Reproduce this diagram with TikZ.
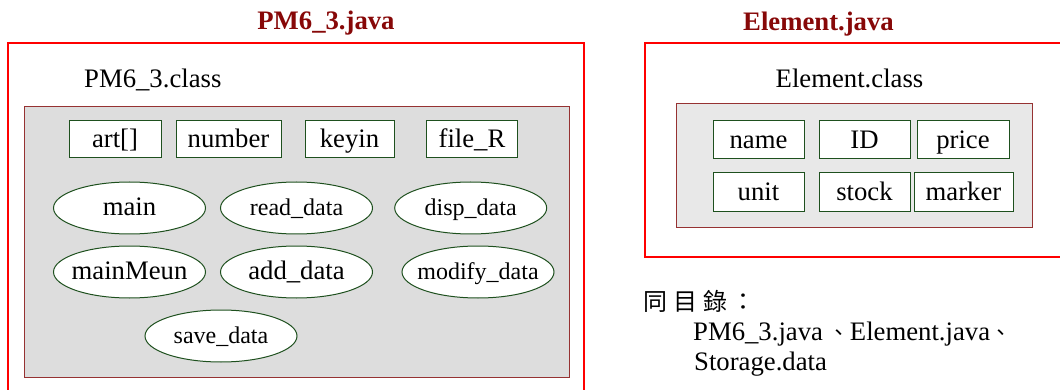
\documentclass[tikz,border=0pt]{standalone}
\usepackage{fontspec}
\setmainfont{Liberation Serif}
\newfontfamily\cjk{Noto Sans CJK TC}
\usetikzlibrary{shapes.geometric}

\definecolor{frameRed}{RGB}{255,0,0}
\definecolor{titleRed}{RGB}{135,8,8}
\definecolor{panelEdge}{RGB}{150,50,50}
\definecolor{panelGrayA}{RGB}{221,221,221}
\definecolor{panelGrayB}{RGB}{232,232,232}
\definecolor{itemGreen}{RGB}{30,80,30}

\tikzset{
  frame/.style={draw=frameRed, line width=1.8pt},
  panel/.style={draw=panelEdge, line width=0.9pt},
  title/.style={font=\fontsize{26.7}{30}\selectfont\bfseries, text=titleRed, inner sep=0pt, anchor=base},
  label/.style={font=\fontsize{26.7}{30}\selectfont, inner sep=0pt},
  field/.style={draw=itemGreen, line width=1pt, fill=white, inner sep=0pt,
    minimum height=37pt, font=\fontsize{26.7}{30}\selectfont,
    text height=18pt, text depth=1pt},
  method/.style={ellipse, draw=itemGreen, line width=1pt, fill=white,
    inner xsep=-14pt, inner ysep=0pt,
    minimum width=152pt, minimum height=52pt,
    text height=16pt, text depth=2pt},
  big/.style={font=\fontsize{26.7}{30}\selectfont},
  small/.style={font=\fontsize{24}{28}\selectfont},
}

% enumeration comma between file names
\newcommand{\listcomma}{{\cjk\fontsize{21}{30}\selectfont 、}}

\begin{document}
\begin{tikzpicture}[x=1pt, y=-1pt]
\useasboundingbox (0,0) rectangle (1060,390);
\clip (0,0) rectangle (1060,390);

% ---- PM6_3.java ----
\node[title] (titleA) at (326,29.5) {PM6\_3.java};
\draw[frame] (8.3,43.3) rectangle (584,400);
\node[label, anchor=base west] (classA) at (84,87.5) {PM6\_3.class};
\draw[panel, fill=panelGrayA] (24,106) rectangle (569.5,377);

\node[field, minimum width=92pt]  (art)    at (115,139.5)   {art[]};
\node[field, minimum width=105pt] (number) at (228.5,139.5) {number};
\node[field, minimum width=89pt]  (keyin)  at (349.5,139.5) {keyin};
\node[field, minimum width=91pt]  (fileR)  at (472,139.5)   {file\_R};

\node[method, big]   (main)   at (129.5,208) {main};
\node[method, small] (read)   at (296.5,208) {read\_data};
\node[method, small] (disp)   at (470.7,208) {disp\_data};
\node[method, big]   (menu)   at (129.5,272) {mainMeun};
\node[method, big]   (add)    at (296.5,272) {add\_data};
\node[method, small] (modify) at (478,272)   {modify\_data};
\node[method, small] (save)   at (221,336)   {save\_data};

% ---- Element.java ----
\node[title] (titleB) at (818.5,30.5) {Element.java};
\draw[frame] (645,43.3) rectangle (1070,257);
\node[label, anchor=base] (classB) at (849.5,87.5) {Element.class};
\draw[panel, fill=panelGrayB] (676,103) rectangle (1032,227);

\node[field, minimum width=91pt, minimum height=38pt] (name)   at (758.5,140)   {name};
\node[field, minimum width=91pt, minimum height=38pt] (id)     at (864.5,140)   {ID};
\node[field, minimum width=92pt, minimum height=38pt] (price)  at (963,140)     {price};
\node[field, minimum width=91pt, minimum height=39pt] (unit)   at (758.5,192.5) {unit};
\node[field, minimum width=91pt, minimum height=39pt] (stock)  at (864.5,192.5) {stock};
\node[field, minimum width=99pt, minimum height=39pt] (marker) at (963.5,192.5) {marker};

% ---- same directory note ----
\node[inner sep=0pt, anchor=west, font=\cjk\fontsize{24}{28}\selectfont] (dirhead) at (643,301)
  {同\hspace{6pt}目\hspace{6pt}錄\hspace{4pt}：};
\node[label, anchor=base west] (dirline1) at (693,340)
  {PM6\_3.java\hspace{6pt}\listcomma Element.java\listcomma};
\node[label, anchor=base west] (dirline2) at (694,370) {Storage.data};
\end{tikzpicture}
\end{document}
